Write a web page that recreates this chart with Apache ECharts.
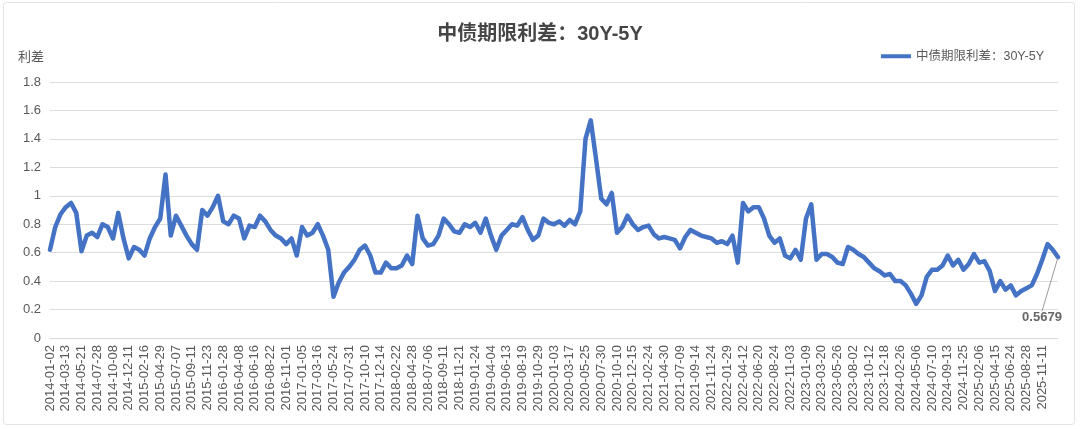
<!DOCTYPE html>
<html>
<head>
<meta charset="utf-8">
<script src="https://cdn.jsdelivr.net/npm/echarts@6/dist/echarts.min.js"></script>
<style>
html,body{margin:0;padding:0;background:#fff;}
#chart{width:1080px;height:429px;}
</style>
</head>
<body>
<div id="chart"></div>
<script>
// ---- data ----
const chartTitle = '中债期限利差：30Y-5Y';
const seriesName = '中债期限利差：30Y-5Y';
const yAxisName = '利差';
const yTicks = [0, 0.2, 0.4, 0.6, 0.8, 1.0, 1.2, 1.4, 1.6, 1.8];

const tickLabels = [
 '2014-01-02','2014-03-13','2014-05-21','2014-07-28','2014-10-08','2014-12-11',
 '2015-02-16','2015-04-29','2015-07-07','2015-09-11','2015-11-23',
 '2016-01-28','2016-04-08','2016-06-16','2016-08-22','2016-11-01',
 '2017-01-05','2017-03-16','2017-05-24','2017-07-31','2017-10-10','2017-12-14',
 '2018-02-22','2018-04-28','2018-07-06','2018-09-11','2018-11-21',
 '2019-01-24','2019-04-04','2019-06-13','2019-08-19','2019-10-29',
 '2020-01-03','2020-03-17','2020-05-25','2020-07-30','2020-10-10','2020-12-15',
 '2021-02-24','2021-04-30','2021-07-09','2021-09-14','2021-11-24',
 '2022-01-29','2022-04-12','2022-06-20','2022-08-24','2022-11-03',
 '2023-01-09','2023-03-20','2023-05-26','2023-08-02','2023-10-12','2023-12-18',
 '2024-02-26','2024-05-06','2024-07-10','2024-09-13','2024-11-25',
 '2025-02-06','2025-04-15','2025-06-24','2025-08-28','2025-11-11'
];

// readings between consecutive tick labels (3 per label interval)
const readingsPerTick = 3;

const spreadValues = [
 0.62,0.78,0.87,0.92,0.95,0.88,0.61,0.72,0.74,0.71,
 0.80,0.78,0.70,0.88,0.70,0.56,0.64,0.62,0.58,0.70,
 0.78,0.84,1.15,0.72,0.86,0.79,0.72,0.66,0.62,0.90,
 0.86,0.92,1.00,0.82,0.80,0.86,0.84,0.70,0.79,0.78,
 0.86,0.82,0.76,0.72,0.70,0.66,0.70,0.58,0.78,0.72,
 0.74,0.80,0.72,0.62,0.29,0.39,0.46,0.50,0.55,0.62,
 0.65,0.58,0.46,0.46,0.53,0.49,0.49,0.51,0.58,0.52,
 0.86,0.70,0.65,0.66,0.72,0.84,0.80,0.75,0.74,0.80,
 0.78,0.81,0.74,0.84,0.72,0.62,0.72,0.76,0.80,0.79,
 0.85,0.76,0.69,0.72,0.84,0.81,0.80,0.82,0.79,0.83,
 0.80,0.89,1.40,1.53,1.26,0.98,0.94,1.02,0.74,0.78,
 0.86,0.80,0.76,0.78,0.79,0.73,0.70,0.71,0.70,0.69,
 0.63,0.71,0.76,0.74,0.72,0.71,0.70,0.67,0.68,0.66,
 0.72,0.53,0.95,0.89,0.92,0.92,0.84,0.72,0.67,0.70,
 0.58,0.56,0.62,0.55,0.84,0.94,0.55,0.59,0.59,0.57,
 0.53,0.52,0.64,0.62,0.59,0.57,0.53,0.49,0.47,0.44,
 0.45,0.40,0.40,0.37,0.31,0.24,0.30,0.43,0.48,0.48,
 0.51,0.58,0.51,0.55,0.48,0.52,0.59,0.53,0.54,0.47,
 0.33,0.40,0.34,0.37,0.30,0.33,0.35,0.37,0.45,0.55,
 0.66,0.62,0.5679
];

// ---- build categories ----
const categories = [];
tickLabels.forEach(function (d) {
  categories.push(d);
  for (let s = 1; s < readingsPerTick; s++) categories.push('');
});
while (categories.length < spreadValues.length) categories.push('');

const lastIdx = spreadValues.length - 1;
const lastValue = spreadValues[lastIdx];

const FONT = '"Liberation Sans", Arial, "Noto Sans CJK SC", sans-serif';

const chart = echarts.init(document.getElementById('chart'), null, {renderer: 'canvas'});
chart.setOption({
  backgroundColor: '#ffffff',
  animation: false,
  textStyle: {fontFamily: FONT},
  graphic: [{
    type: 'rect',
    shape: {x: 3.5, y: 2.5, width: 1071, height: 422, r: 3},
    style: {fill: 'none', stroke: '#e3e3e3', lineWidth: 1},
    silent: true
  }],
  title: {
    text: chartTitle,
    left: 'center',
    top: 19,
    textStyle: {fontSize: 20, fontWeight: 'bold', color: '#454545', fontFamily: FONT}
  },
  legend: {
    data: [seriesName],
    right: 31,
    top: 45,
    icon: 'rect',
    itemWidth: 30,
    itemHeight: 4,
    itemGap: 4,
    textStyle: {fontSize: 12.5, color: '#595959', fontFamily: FONT}
  },
  grid: {left: 50, right: 22, top: 82, bottom: 91, containLabel: false},
  xAxis: {
    type: 'category',
    data: categories,
    boundaryGap: false,
    axisLine: {show: true, lineStyle: {color: '#d9d9d9'}},
    axisTick: {show: false},
    axisLabel: {
      interval: function (idx, val) { return val !== ''; },
      rotate: 90,
      margin: 7,
      fontSize: 13,
      color: '#595959',
      fontFamily: FONT
    },
    splitLine: {show: false}
  },
  yAxis: {
    type: 'value',
    min: yTicks[0],
    max: yTicks[yTicks.length - 1],
    interval: 0.2,
    name: yAxisName,
    nameLocation: 'end',
    nameGap: 18,
    nameTextStyle: {align: 'right', padding: [0, 6, 0, 0], fontSize: 13, color: '#595959', fontFamily: FONT},
    axisLine: {show: false},
    axisTick: {show: false},
    axisLabel: {
      margin: 9,
      fontSize: 13,
      color: '#595959',
      fontFamily: FONT,
      formatter: function (v) { return String(Math.round(v * 10) / 10); }
    },
    splitLine: {show: true, lineStyle: {color: '#dcdcdc', width: 1}}
  },
  series: [{
    name: seriesName,
    type: 'line',
    data: spreadValues,
    symbol: 'none',
    smooth: false,
    itemStyle: {color: '#4472C4'},
    lineStyle: {color: '#4472C4', width: 4.5, join: 'round', cap: 'round'},
    z: 3
  }, {
    name: 'last',
    type: 'scatter',
    data: [[lastIdx, lastValue]],
    symbol: 'circle',
    symbolSize: 2,
    itemStyle: {color: '#4472C4'},
    label: {
      show: true,
      position: 'bottom',
      formatter: String(lastValue),
      color: '#404040',
      fontSize: 13,
      fontWeight: 'bold',
      fontFamily: FONT
    },
    labelLayout: {dx: -16, dy: 48},
    labelLine: {show: true, lineStyle: {color: '#9a9a9a', width: 1}},
    z: 4
  }]
});
</script>
</body>
</html>
